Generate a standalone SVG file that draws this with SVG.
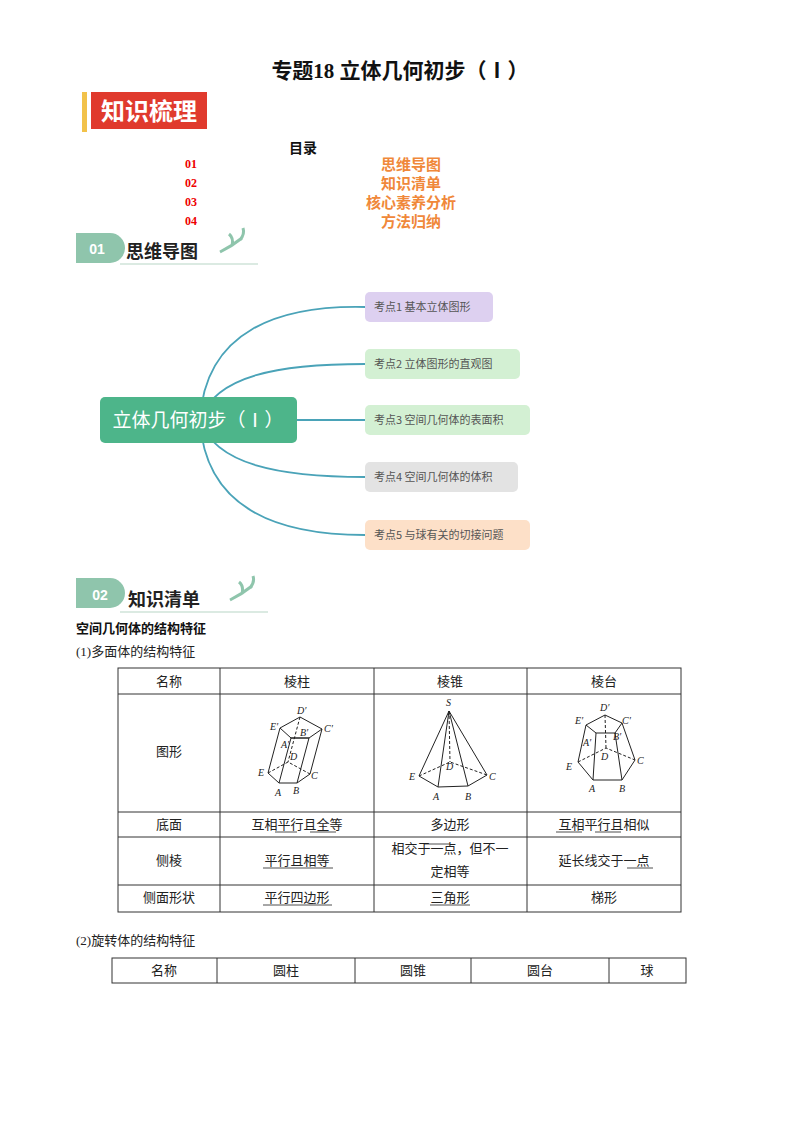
<svg xmlns="http://www.w3.org/2000/svg" width="800" height="1134" viewBox="0 0 800 1134">
<style>
.s{font-family:"Liberation Serif","Noto Sans CJK SC",serif;font-size:13px;fill:#222}
.c{text-anchor:middle}
.g{stroke:#222;fill:none;stroke-width:1}
.d{stroke-dasharray:3 2}
.pill{font-family:"Noto Sans CJK SC",sans-serif;font-size:11px;fill:#555}
.lbl{font-family:"Liberation Serif",serif;font-style:italic;font-size:10px;fill:#222}
.tb{stroke:#333;stroke-width:1;fill:none}
</style>
<rect width="800" height="1134" fill="#fff"/>
<text x="400" y="78" class="c" style="font-family:'Liberation Serif','Noto Sans CJK SC',serif;font-size:21px;font-weight:bold;fill:#111">专题18 立体几何初步（Ⅰ）</text>
<g id="header1">
<rect x="82" y="92" width="5" height="40" fill="#f2c24a"/>
<rect x="91" y="92" width="116" height="37" fill="#e03a2d"/>
<text x="149" y="120" class="c" style="font-family:'Noto Sans CJK SC',sans-serif;font-size:24px;font-weight:bold;fill:#fff">知识梳理</text>
</g>
<g id="toc">
<text x="303" y="153" class="c" style="font-family:'Noto Sans CJK SC',sans-serif;font-size:14px;font-weight:bold;fill:#111">目录</text>
<g style="font-family:'Liberation Serif',serif;font-size:12px;font-weight:bold;fill:#e00">
<text x="185" y="168">01</text><text x="185" y="187">02</text><text x="185" y="206">03</text><text x="185" y="225">04</text></g>
<g class="c" style="font-family:'Noto Sans CJK SC',sans-serif;font-size:15px;font-weight:bold;fill:#f0883a">
<text x="411" y="170">思维导图</text><text x="411" y="189">知识清单</text><text x="411" y="208">核心素养分析</text><text x="411" y="227">方法归纳</text></g>
</g>
<g id="header01">
<path d="M76 233 H110 a15 15 0 0 1 0 30 H76 Z" fill="#8fc5ac"/>
<text x="97" y="254" class="c" style="font-family:'Liberation Sans',sans-serif;font-size:14px;font-weight:bold;fill:#fff">01</text>
<text x="126" y="258" style="font-family:'Noto Sans CJK SC',sans-serif;font-size:18px;font-weight:bold;fill:#222">思维导图</text>
<line x1="120" y1="264" x2="258" y2="264" stroke="#cfe3d8" stroke-width="1.5"/>
<path d="M220 252 q12 -6 22 -14 M232 246 q2 -8 -3 -12 M240 240 q5 -6 3 -12" stroke="#8fc5ac" stroke-width="3" fill="none"/>
</g>
<g id="connectors" fill="none" stroke="#4aa3b8" stroke-width="1.8">
<path d="M200 420 C205 330 280 305 365 307"/>
<path d="M200 420 C215 375 280 364 365 364"/>
<path d="M297 420 C320 420 340 420 365 420"/>
<path d="M200 420 C215 465 280 477 365 477"/>
<path d="M200 420 C205 510 280 535 365 535"/>
</g>
<g id="center"><rect x="100" y="397" width="197" height="46" rx="5" fill="#4db58a"/>
<text x="198" y="427" class="c" style="font-family:'Noto Sans CJK SC',sans-serif;font-size:19px;fill:#fff">立体几何初步（Ⅰ）</text></g>
<g id="k1"><rect x="365" y="292" width="128" height="30" rx="5" fill="#ddd0f0"/><text x="374" y="311" class="pill">考点1 基本立体图形</text></g>
<g id="k2"><rect x="365" y="349" width="155" height="30" rx="5" fill="#d3f0d3"/><text x="374" y="368" class="pill">考点2 立体图形的直观图</text></g>
<g id="k3"><rect x="365" y="405" width="165" height="30" rx="5" fill="#d3f0d3"/><text x="374" y="424" class="pill">考点3 空间几何体的表面积</text></g>
<g id="k4"><rect x="365" y="462" width="153" height="30" rx="5" fill="#e3e3e3"/><text x="374" y="481" class="pill">考点4 空间几何体的体积</text></g>
<g id="k5"><rect x="365" y="520" width="165" height="30" rx="5" fill="#fde0c8"/><text x="374" y="539" class="pill">考点5 与球有关的切接问题</text></g>
<g id="header02">
<path d="M76 578 H110 a15 15 0 0 1 0 30 H76 Z" fill="#8fc5ac"/>
<text x="100" y="600" class="c" style="font-family:'Liberation Sans',sans-serif;font-size:14px;font-weight:bold;fill:#fff">02</text>
<text x="128" y="606" style="font-family:'Noto Sans CJK SC',sans-serif;font-size:18px;font-weight:bold;fill:#222">知识清单</text>
<line x1="120" y1="612" x2="268" y2="612" stroke="#cfe3d8" stroke-width="1.5"/>
<path d="M230 600 q12 -6 22 -14 M242 594 q2 -8 -3 -12 M250 588 q5 -6 3 -12" stroke="#8fc5ac" stroke-width="3" fill="none"/>
</g>
<text x="76" y="633" style="font-family:'Noto Sans CJK SC',sans-serif;font-size:13px;font-weight:bold;fill:#111">空间几何体的结构特征</text>
<text x="76" y="656" class="s">(1)多面体的结构特征</text>
<g id="table1">
<rect x="118" y="668" width="563" height="244" class="tb"/>
<path class="tb" d="M118 694H681M118 812H681M118 837H681M118 885H681M220 668V912M374 668V912M527 668V912"/>
<g class="s c">
<text x="169" y="686">名称</text><text x="297" y="686">棱柱</text><text x="450" y="686">棱锥</text><text x="604" y="686">棱台</text>
<text x="169" y="756">图形</text>
<text x="169" y="829">底面</text><text x="297" y="829">互相平行且全等</text><text x="450" y="829">多边形</text><text x="604" y="829">互相平行且相似</text>
<text x="169" y="865">侧棱</text><text x="297" y="865">平行且相等</text><text x="450" y="853">相交于一点，但不一</text><text x="450" y="876">定相等</text><text x="604" y="865">延长线交于一点</text>
<text x="169" y="902">侧面形状</text><text x="297" y="902">平行四边形</text><text x="450" y="902">三角形</text><text x="604" y="902">梯形</text>
</g>
<path stroke="#222" stroke-width="0.8" d="M275 832H297M310 832H336M556 832H582M595 832H621M263 868H333M424 844H450M627 868H653M263 905H332M430 905H470"/>
</g>
<g id="prism">
<path class="g" d="M280 728L300 717L322 729L309 738L291 738Z M291 738L309 738L297 783L279 783Z M280 728L268 773L279 783 M322 729L310 774L297 783"/>
<path class="g d" d="M300 717L288 762 M268 773L288 762L310 774"/>
<g class="lbl"><text x="297" y="714">D′</text><text x="270" y="730">E′</text><text x="324" y="732">C′</text><text x="300" y="736">B′</text><text x="281" y="748">A′</text><text x="290" y="760">D</text><text x="258" y="776">E</text><text x="311" y="779">C</text><text x="275" y="796">A</text><text x="293" y="794">B</text></g>
</g>
<g id="pyramid">
<path class="g" d="M449 711L419 776L438 787L468 786L487 775Z M449 711L438 787 M449 711L468 786"/>
<path class="g d" d="M449 711L450 762 M419 776L450 762L487 775"/>
<g class="lbl"><text x="446" y="706">S</text><text x="446" y="770">D</text><text x="409" y="780">E</text><text x="489" y="780">C</text><text x="433" y="800">A</text><text x="465" y="800">B</text></g>
</g>
<g id="frustum">
<path class="g" d="M586 725L605 715L622 723L615 733L596 733Z M596 733L593 780L622 780L615 733 M586 725L578 762L593 780 M622 723L635 760L622 780"/>
<path class="g d" d="M605 715L606 748 M578 762L606 748L635 760"/>
<g class="lbl"><text x="600" y="711">D′</text><text x="575" y="724">E′</text><text x="622" y="724">C′</text><text x="613" y="740">B′</text><text x="583" y="746">A′</text><text x="601" y="760">D</text><text x="566" y="770">E</text><text x="637" y="764">C</text><text x="589" y="792">A</text><text x="619" y="792">B</text></g>
</g>
<text x="76" y="945" class="s">(2)旋转体的结构特征</text>
<g id="table2">
<rect x="112" y="958" width="574" height="25" class="tb"/>
<path class="tb" d="M217 958V983M355 958V983M471 958V983M609 958V983"/>
<g class="s c"><text x="164" y="975">名称</text><text x="286" y="975">圆柱</text><text x="413" y="975">圆锥</text><text x="540" y="975">圆台</text><text x="647" y="975">球</text></g>
</g>
</svg>
